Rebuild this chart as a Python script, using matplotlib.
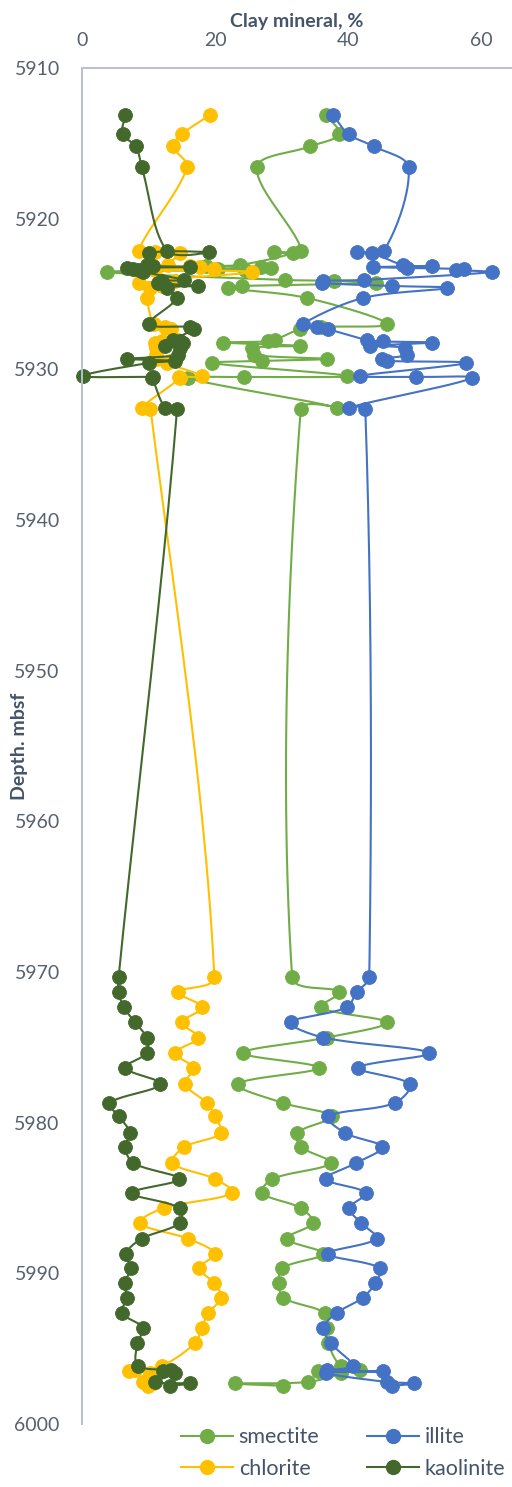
import numpy as np
import matplotlib.pyplot as plt
from matplotlib.lines import Line2D

plt.rcParams['font.family'] = ['Lato', 'DejaVu Sans']

# depth of each sample, mbsf
depth = [
    5913.1, 5914.4, 5915.2, 5916.6,
    5922.14, 5922.21, 5922.28,
    5923.07, 5923.14, 5923.21, 5923.27, 5923.34, 5923.40, 5923.54,
    5924.07, 5924.13, 5924.27, 5924.47, 5924.60,
    5925.26,
    5926.99, 5927.19, 5927.34,
    5928.05, 5928.15, 5928.22, 5928.45, 5928.58,
    5929.04, 5929.30, 5929.44, 5929.58,
    5930.44, 5930.51, 5930.58,
    5932.54, 5932.63,
    5970.34, 5971.33, 5972.35, 5973.35, 5974.35, 5975.38, 5976.36, 5977.44, 5978.70, 5979.59,
    5980.69, 5981.62, 5982.68, 5983.74, 5984.67, 5985.67, 5986.66, 5987.70, 5988.70, 5989.65,
    5990.64, 5991.62, 5992.63, 5993.63, 5994.63, 5996.14, 5996.41, 5996.51, 5996.61,
    5997.21, 5997.31, 5997.47,
]

# clay fractions, %
smectite = [
    36.7, 38.7, 34.3, 26.3,
    33.0, 28.8, 31.7,
    23.8, 18.7, 26.9, 28.4, 20.5, 24.5, 3.7,
    30.5, 37.9, 44.2, 24.0, 22.0,
    33.8,
    45.9, 36.0, 32.8,
    29.0, 28.0, 21.2, 32.8, 25.5,
    25.8, 36.9, 27.0, 19.5,
    39.9, 24.4, 16.0,
    38.3, 32.9,
    31.6, 38.7, 35.9, 45.8, 36.8, 24.2, 35.6, 23.4, 30.3, 37.6,
    32.3, 33.0, 37.4, 28.6, 27.1, 32.9, 34.7, 30.8, 36.3, 30.1,
    29.6, 30.3, 36.5, 36.8, 37.0, 38.9, 41.8, 35.5, 38.9,
    34.0, 23.0, 30.3,
]
illite = [
    37.7, 40.1, 43.9, 49.1,
    45.4, 41.4, 43.6,
    48.3, 52.6, 43.8, 48.9, 57.4, 56.2, 61.7,
    42.4, 36.2, 36.1, 46.6, 54.9,
    42.3,
    33.2, 35.3, 37.0,
    42.8, 45.2, 52.6, 43.3, 48.6,
    48.8, 45.1, 45.8, 57.7,
    41.8, 50.3, 58.6,
    40.2, 42.6,
    43.2, 41.3, 39.8, 31.4, 36.3, 52.2, 41.5, 49.3, 47.0, 37.0,
    39.6, 45.1, 41.2, 36.7, 42.7, 40.2, 42.0, 44.3, 37.0, 44.8,
    44.1, 42.2, 38.3, 36.3, 37.4, 40.7, 36.8, 45.2, 36.7,
    45.8, 49.9, 46.6,
]
chlorite = [
    19.3, 15.0, 13.7, 15.8,
    8.5, 11.0, 14.7,
    13.0, 16.2, 17.7, 10.0, 19.8, 11.0, 25.5,
    11.7, 14.0, 8.5, 12.0, 10.2,
    9.8,
    10.8, 12.5, 13.4,
    14.5, 12.0, 11.0, 11.4, 11.2,
    11.2, 11.3, 13.2, 12.8,
    18.0, 14.6, 14.8,
    9.0, 10.3,
    19.9, 14.5, 18.1, 15.0, 17.5, 14.0, 16.7, 15.5, 18.8, 20.0,
    20.9, 15.4, 13.6, 20.0, 22.6, 12.3, 8.7, 15.9, 20.0, 17.6,
    19.9, 20.9, 19.0, 18.0, 17.0, 12.0, 8.0, 7.1, 10.2,
    9.2, 10.9, 9.9,
]
kaolinite = [
    6.5, 6.1, 8.1, 9.0,
    12.8, 19.1, 10.1,
    9.8, 10.7, 16.2, 6.7, 7.6, 8.5, 9.2,
    15.3, 12.0, 11.5, 17.5, 12.8,
    14.3,
    10.1, 16.2, 16.8,
    13.7, 14.8, 15.2, 12.5, 14.7,
    14.5, 6.7, 14.0, 10.0,
    0.2, 10.7, 10.6,
    12.5, 14.3,
    5.5, 5.5, 6.3, 8.0, 9.7, 9.7, 6.5, 11.8, 4.1, 5.6,
    7.2, 6.5, 7.7, 14.6, 7.5, 14.7, 14.7, 9.0, 6.6, 7.4,
    6.4, 6.7, 6.0, 9.2, 8.3, 8.4, 13.4, 12.2, 14.0,
    11.0, 16.2, 13.2,
]

x_ticks = [0, 20, 40, 60]
y_ticks = list(range(5910, 6001, 10))

series = [
    ('smectite', smectite, '#70AD47'),
    ('illite', illite, '#4472C4'),
    ('chlorite', chlorite, '#FFC000'),
    ('kaolinite', kaolinite, '#43682B'),
]

text_color = '#44546A'
tick_color = '#56606F'
axis_color = '#B4C0D3'


def smooth_curve(ax, xs, ys, steps=24, k=1 / 3):
    # cubic Bezier through the points, tangents weighted by chord length
    # so short hops next to long jumps do not overshoot
    pts = ax.transData.transform(np.column_stack([xs, ys]))
    n = len(pts)
    out = [pts[0]]
    t = np.linspace(0, 1, steps)[1:, None]
    for i in range(n - 1):
        p0 = pts[i - 1] if i > 0 else pts[i]
        p1 = pts[i]
        p2 = pts[i + 1]
        p3 = pts[i + 2] if i + 2 < n else pts[i + 1]
        d01 = np.hypot(*(p1 - p0))
        d12 = np.hypot(*(p2 - p1))
        d23 = np.hypot(*(p3 - p2))
        c1 = p1 + (p2 - p0) * k * d12 / max(d01 + d12, 1e-9)
        c2 = p2 - (p3 - p1) * k * d12 / max(d12 + d23, 1e-9)
        seg = (1 - t) ** 3 * p1 + 3 * (1 - t) ** 2 * t * c1 + 3 * (1 - t) * t ** 2 * c2 + t ** 3 * p2
        out.extend(seg)
    return ax.transData.inverted().transform(np.array(out))


fig = plt.figure(figsize=(5.12, 14.87), dpi=100)
ax = fig.add_axes([82 / 512, 1 - 1424 / 1487, 430 / 512, (1424 - 68) / 1487])
ax.set_xlim(0, 430 / 6.65)
ax.set_ylim(6000, 5910)

for name, vals, color in series:
    curve = smooth_curve(ax, vals, depth)
    ax.plot(curve[:, 0], curve[:, 1], color=color, lw=1.5, solid_capstyle='round')
    ax.plot(vals, depth, 'o', color=color, ms=10, mec=color, mew=0.6, clip_on=False)

ax.xaxis.tick_top()
ax.set_xticks(x_ticks)
ax.set_yticks(y_ticks)
ax.tick_params(length=0, labelsize=14, colors=tick_color)
ax.tick_params(axis='x', pad=14)
ax.tick_params(axis='y', pad=16)

for side in ['right', 'bottom']:
    ax.spines[side].set_visible(False)
for side in ['left', 'top']:
    ax.spines[side].set_color(axis_color)
    ax.spines[side].set_linewidth(1.4)

fig.text(297 / 512, 1 - 21 / 1487, 'Clay mineral, %', ha='center', va='center',
         fontsize=14, fontweight='bold', color=text_color)
fig.text(20 / 512, 1 - 746 / 1487, 'Depth. mbsf', ha='center', va='center',
         rotation=90, fontsize=14, fontweight='bold', color=text_color)

handles = {}
for name, vals, color in series:
    handles[name] = Line2D([], [], color=color, lw=1.5, marker='o', ms=10, mec=color)
order = ['smectite', 'chlorite', 'illite', 'kaolinite']
leg = fig.legend([handles[k] for k in order], order, ncol=2, loc='center',
                 bbox_to_anchor=(343 / 512, 1 - 1453 / 1487), frameon=False,
                 fontsize=15.5, handlelength=2.45, handletextpad=0.25,
                 columnspacing=2.2, labelspacing=0.55)
for txt in leg.get_texts():
    txt.set_color(text_color)

fig.savefig('out.png', dpi=100)
